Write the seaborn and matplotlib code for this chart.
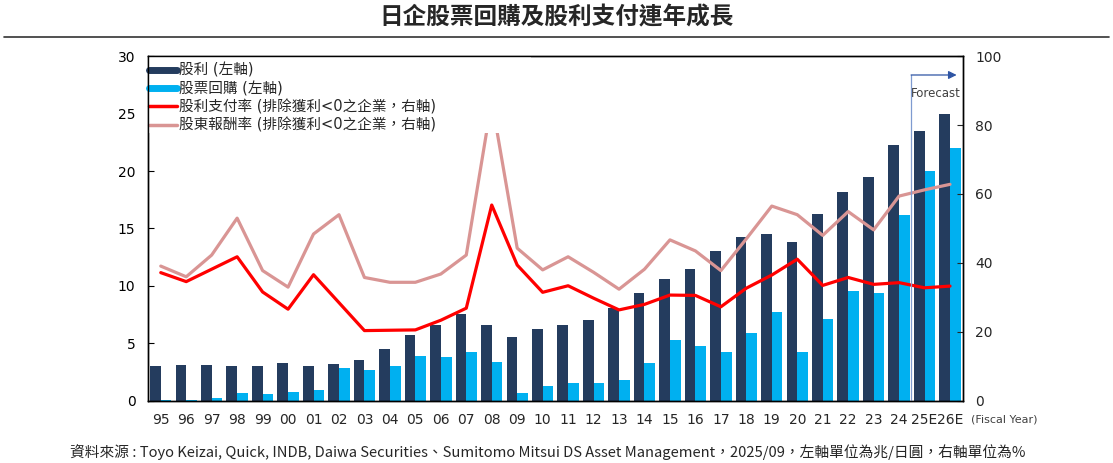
import numpy as np
import pandas as pd
import matplotlib
matplotlib.use("Agg")
import matplotlib.pyplot as plt
from matplotlib.lines import Line2D
from matplotlib.patches import Rectangle
import seaborn as sns

# ----------------------------------------
# Data
# ----------------------------------------
years = ["95", "96", "97", "98", "99", "00", "01", "02", "03", "04", "05", "06",
         "07", "08", "09", "10", "11", "12", "13", "14", "15", "16", "17", "18",
         "19", "20", "21", "22", "23", "24", "25E", "26E"]

# left axis, trillion yen
dividends = [3.0, 3.1, 3.1, 3.0, 3.0, 3.3, 3.05, 3.2, 3.6, 4.5, 5.7, 6.6,
             7.6, 6.6, 5.6, 6.3, 6.6, 7.0, 8.1, 9.4, 10.6, 11.5, 13.0, 14.3,
             14.5, 13.8, 16.3, 18.2, 19.5, 22.3, 23.5, 25.0]
buybacks = [0.1, 0.1, 0.3, 0.7, 0.6, 0.8, 0.95, 2.9, 2.7, 3.05, 3.9, 3.8,
            4.3, 3.4, 0.7, 1.3, 1.55, 1.6, 1.85, 3.3, 5.3, 4.75, 4.3, 5.95,
            7.7, 4.3, 7.1, 9.55, 9.35, 16.2, 20.0, 22.0]

# right axis, %
payout_ratio = [37.2, 34.6, 38.2, 41.8, 31.6, 26.6, 36.6, 28.5, 20.4, 20.5, 20.6, 23.4,
                26.9, 56.8, 39.4, 31.5, 33.4, 29.8, 26.4, 28.0, 30.7, 30.6, 27.3, 32.7,
                36.5, 41.1, 33.5, 35.8, 33.8, 34.3, 32.8, 33.3]
total_return_ratio = [39.1, 36.0, 42.3, 53.0, 37.8, 33.0, 48.4, 54.0, 35.8, 34.4, 34.4, 36.8,
                      42.3, 87.0, 44.3, 38.0, 41.8, 37.3, 32.4, 38.2, 46.7, 43.5, 37.8, 47.0,
                      56.5, 54.0, 48.0, 54.9, 49.6, 59.4, 61.2, 62.8]

series_names = ["股利 (左軸)", "股票回購 (左軸)",
                "股利支付率 (排除獲利<0之企業，右軸)", "股東報酬率 (排除獲利<0之企業，右軸)"]

navy = "#243C5E"
sky = "#00B0F0"
red = "#FF0000"
pink = "#D99594"

# ----------------------------------------
# Style
# ----------------------------------------
sns.set_style("white")
plt.rcParams["font.family"] = ["DejaVu Sans", "Noto Sans CJK TC"]

df = pd.DataFrame({
    "year": years * 2,
    "value": dividends + buybacks,
    "series": [series_names[0]] * len(years) + [series_names[1]] * len(years),
})

fig = plt.figure(figsize=(11.13, 4.63), dpi=100)
ax = fig.add_axes([0.133, 0.134, 0.732, 0.745])

sns.barplot(data=df, x="year", y="value", hue="series", order=years,
            palette=[navy, sky], saturation=1, width=0.84, gap=0, linewidth=0,
            dodge=True, legend=False, ax=ax)

ax.set_xlim(-0.5, len(years) - 0.5)
ax.set_ylim(0, 30)
ax.set_yticks(np.arange(0, 31, 5))
ax.set_xlabel("")
ax.set_ylabel("")
ax.tick_params(axis="y", direction="in", length=4, pad=9, labelsize=10, colors="black")
ax.tick_params(axis="x", which="major", length=0, pad=9, labelsize=10)
ax.set_xticks(np.arange(-0.5, len(years), 1), minor=True)
ax.tick_params(axis="x", which="minor", direction="out", length=2.5, color="#555555")

# ----------------------------------------
# Ratios on the right axis
# ----------------------------------------
ax2 = ax.twinx()
xpos = np.arange(len(years))
sns.lineplot(x=xpos, y=total_return_ratio, color=pink, lw=2.3, ax=ax2, legend=False)
sns.lineplot(x=xpos, y=payout_ratio, color=red, lw=2.3, ax=ax2, legend=False)
ax2.set_ylim(0, 100)
ax2.set_yticks(np.arange(0, 101, 20))
ax2.tick_params(axis="y", direction="in", length=4, pad=9, labelsize=10)
ax2.set_xlim(-0.5, len(years) - 0.5)

for a in (ax, ax2):
    for sp in a.spines.values():
        sp.set_visible(True)
        sp.set_color("black")
        sp.set_linewidth(1.0)
        sp.set_zorder(6)

# white legend area, it hides the top of the 08 peak like in the original
ax2.add_patch(Rectangle((0, 0.777), 0.47, 0.223, transform=ax2.transAxes,
                        facecolor="white", edgecolor="none", zorder=4))

# forecast marker
fc_x = len(years) - 2.53
ax2.plot([fc_x, fc_x], [0, 94.5], color="#7F9BD0", lw=0.9)
ax2.annotate("", xy=(len(years) - 0.74, 94.5), xytext=(fc_x, 94.5),
             arrowprops=dict(arrowstyle="-|>", color="#2F55A4", lw=0.9,
                             mutation_scale=12, shrinkA=0, shrinkB=0))
ax2.text(len(years) - 1.55, 89, "Forecast", ha="center", va="center",
         fontsize=8.5, color="#404040")

handles = [Line2D([], [], color=navy, lw=5),
           Line2D([], [], color=sky, lw=5),
           Line2D([], [], color=red, lw=2.5),
           Line2D([], [], color=pink, lw=2.5)]
leg = ax2.legend(handles, series_names, loc="upper left", bbox_to_anchor=(0.0, 0.985),
                 fontsize=10.5, frameon=False, borderpad=0.1, borderaxespad=0,
                 handlelength=1.9, handletextpad=0.15, labelspacing=0.22)

# ----------------------------------------
# Titles and notes
# ----------------------------------------
fig.text(0.5, 0.962, "日企股票回購及股利支付連年成長", ha="center", va="center",
         fontsize=17, fontweight="bold", family=["Noto Sans CJK TC"])
fig.add_artist(Line2D([0.004, 0.996], [0.92, 0.92], color="#333333", lw=1.2))
fig.text(0.902, 0.093, "(Fiscal Year)", ha="center", va="center", fontsize=8, color="#404040")
fig.text(0.492, 0.024,
         "資料來源 : Toyo Keizai, Quick, INDB, Daiwa Securities、Sumitomo Mitsui DS Asset Management，2025/09，左軸單位為兆/日圓，右軸單位為%",
         ha="center", va="center", fontsize=10.6, family=["Noto Sans CJK TC", "DejaVu Sans"])

fig.savefig("out.png", dpi=100)
